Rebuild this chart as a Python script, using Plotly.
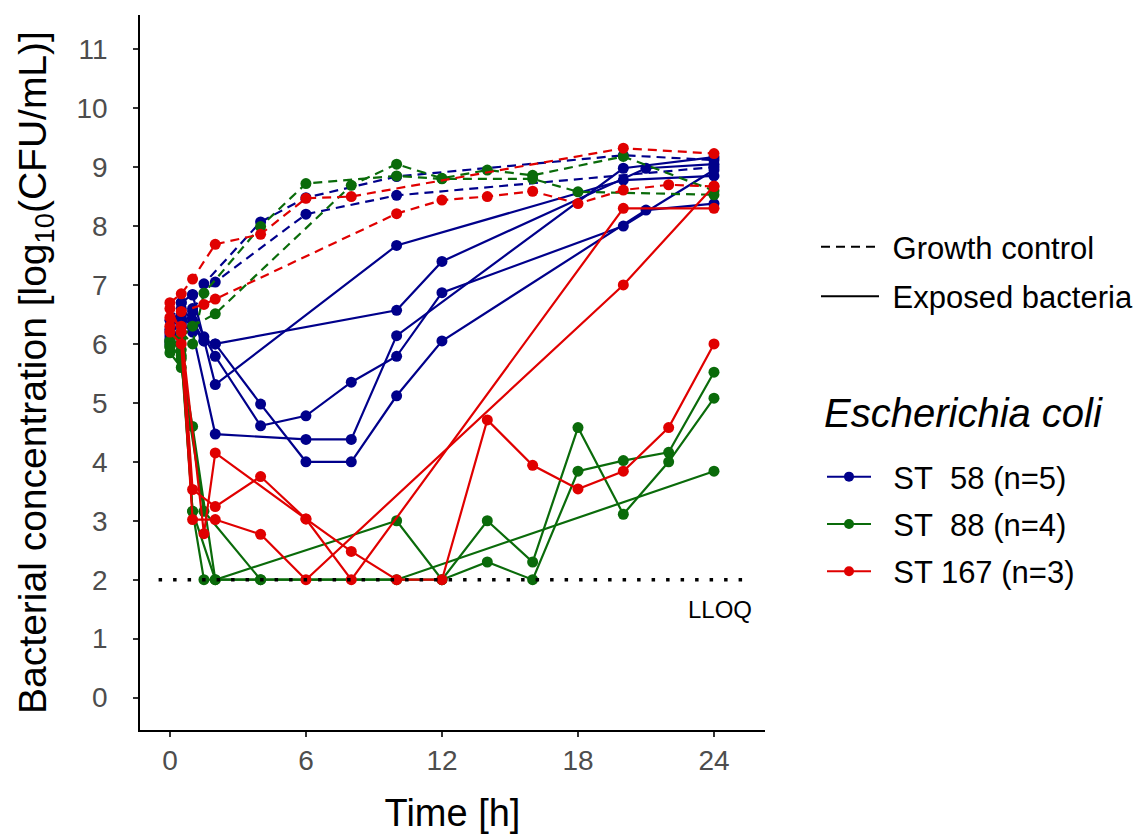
import plotly.graph_objects as go

FONT = "Liberation Sans"

# ---- data: log10 CFU/mL over time (h) ----
LLOQ = 2.0
LLOQ_SPAN = [-0.5, 25.5]

# ST 58 (n=5), exposed isolates
st58_exp_t = [
    [0, 0.5, 1, 1.5, 2, 10, 12, 21, 24],
    [0, 0.5, 1, 2, 10, 20, 24],
    [0, 0.5, 1, 1.5, 2, 4, 6, 8, 10, 12, 20, 24],
    [0, 0.5, 1, 2, 6, 8, 10, 20, 24],
    [0, 0.5, 1, 1.5, 2, 4, 6, 8, 10, 12, 21, 24],
]
st58_exp_v = [
    [6.10, 6.45, 6.30, 6.05, 6.00, 6.57, 7.40, 8.98, 9.05],
    [6.20, 6.70, 6.84, 5.31, 7.67, 8.78, 8.85],
    [6.05, 6.30, 6.55, 6.12, 5.79, 4.61, 4.78, 5.35, 5.79, 6.87, 8.00, 8.95],
    [6.00, 6.35, 6.20, 4.47, 4.38, 4.38, 6.14, 8.98, 9.17],
    [6.15, 6.60, 6.40, 6.05, 6.00, 4.98, 4.00, 4.00, 5.12, 6.05, 8.27, 8.38],
]
# ST 58 growth controls
st58_gc_t = [
    [0, 0.5, 1, 1.5, 4, 6, 10, 20, 24],
    [0, 0.5, 1, 2, 6, 10, 24],
]
st58_gc_v = [
    [6.40, 6.70, 6.83, 7.02, 8.07, 8.48, 8.84, 9.20, 9.12],
    [6.25, 6.50, 6.60, 7.05, 8.20, 8.52, 9.00],
]

# ST 88 (n=4), exposed isolates
st88_exp_t = [
    [0, 0.5, 1, 2, 10, 12, 14, 16, 18, 20, 22, 24],
    [0, 0.5, 1.5, 4, 10, 24],
    [0, 0.5, 1, 1.5, 12, 14, 16, 18, 20, 22, 24],
    [0, 0.5, 1, 2, 4],
]
st88_exp_v = [
    [6.00, 5.75, 4.60, 2.00, 3.00, 2.00, 3.00, 2.30, 4.58, 3.11, 4.00, 5.08],
    [5.85, 5.60, 3.16, 2.00, 2.00, 3.84],
    [6.05, 5.90, 3.16, 2.00, 2.00, 2.30, 2.00, 3.84, 4.02, 4.16, 5.52],
    [5.95, 5.80, 3.16, 2.00, 2.00],
]
# ST 88 growth controls
st88_gc_t = [
    [0, 0.5, 1, 1.5, 4, 6, 10, 12, 16, 18, 24],
    [0, 0.5, 1, 2, 8, 10, 12, 14, 16, 20, 24],
]
st88_gc_v = [
    [6.05, 6.20, 6.00, 6.86, 7.99, 8.72, 8.85, 8.80, 8.80, 8.58, 8.53],
    [5.95, 6.10, 6.30, 6.51, 8.69, 9.05, 8.81, 8.95, 8.86, 9.18, 8.60],
]

# ST 167 (n=3), exposed isolates
st167_exp_t = [
    [0, 0.5, 1, 2, 4, 6, 8, 10, 12, 14, 16, 18, 20, 22, 24],
    [0, 0.5, 1.5, 2, 6, 8, 20, 24],
    [0, 0.5, 1, 2, 4, 6, 20, 24],
]
st167_exp_v = [
    [6.45, 6.30, 3.53, 3.24, 3.75, 3.03, 2.48, 2.00, 2.00, 4.71, 3.94, 3.54, 3.84, 4.58, 6.00],
    [6.60, 6.20, 2.78, 4.15, 3.03, 2.00, 8.30, 8.30],
    [6.20, 6.00, 3.02, 3.02, 2.77, 2.00, 7.00, 8.68],
]
# ST 167 growth controls
st167_gc_t = [
    [0, 0.5, 1, 2, 4, 6, 8, 20, 24],
    [0, 0.5, 1.5, 2, 10, 12, 14, 16, 18, 20, 22, 24],
]
st167_gc_v = [
    [6.70, 6.85, 7.10, 7.69, 7.86, 8.47, 8.50, 9.32, 9.23],
    [6.30, 6.55, 6.67, 6.76, 8.21, 8.44, 8.50, 8.59, 8.38, 8.61, 8.70, 8.67],
]

strain_labels = ["ST\u00a0\u00a058 (n=5)", "ST\u00a0\u00a088 (n=4)", "ST 167 (n=3)"]
strain_colors = ["#00008B", "#0A6B0A", "#E00000"]
linetype_labels = ["Growth control", "Exposed bacteria"]
x_ticks = [0, 6, 12, 18, 24]
y_ticks = list(range(0, 12))

GC_DASH = "9px,6px"
PAD = "\u00a0"
MARKER_SIZE = 11

strains = [
    (st58_gc_t, st58_gc_v, st58_exp_t, st58_exp_v),
    (st88_gc_t, st88_gc_v, st88_exp_t, st88_exp_v),
    (st167_gc_t, st167_gc_v, st167_exp_t, st167_exp_v),
]

fig = go.Figure()

for (gc_t, gc_v, ex_t, ex_v), color in zip(strains, strain_colors):
    for t, v in zip(gc_t, gc_v):
        fig.add_trace(go.Scatter(
            x=t, y=v, mode="lines+markers", showlegend=False, hoverinfo="skip",
            line=dict(color=color, width=2.2, dash=GC_DASH),
            marker=dict(color=color, size=MARKER_SIZE, symbol="circle"),
        ))
    for t, v in zip(ex_t, ex_v):
        fig.add_trace(go.Scatter(
            x=t, y=v, mode="lines+markers", showlegend=False, hoverinfo="skip",
            line=dict(color=color, width=2.2),
            marker=dict(color=color, size=MARKER_SIZE, symbol="circle"),
        ))

# lower limit of quantification
fig.add_trace(go.Scatter(
    x=LLOQ_SPAN, y=[LLOQ, LLOQ], mode="lines", showlegend=False, hoverinfo="skip",
    line=dict(color="black", width=3.5, dash="3.5px,11px"),
))
fig.add_annotation(
    x=LLOQ_SPAN[1], y=LLOQ, xref="x", yref="y", text="LLOQ",
    showarrow=False, xanchor="right", yanchor="top", xshift=6, yshift=-14,
    font=dict(family=FONT, size=24, color="black"),
)

# line-type legend
for name, dash in zip(linetype_labels, [GC_DASH, "solid"]):
    fig.add_trace(go.Scatter(
        x=[None], y=[None], mode="lines", name=PAD + name, legend="legend",
        legendgroup=name, line=dict(color="black", width=2, dash=dash),
    ))

# strain legend
for name, color in zip(strain_labels, strain_colors):
    fig.add_trace(go.Scatter(
        x=[None], y=[None], mode="lines+markers", name=PAD * 2 + name, legend="legend2",
        legendgroup=name, line=dict(color=color, width=2),
        marker=dict(color=color, size=10),
    ))

fig.add_annotation(
    x=1.0912, y=0.443, xref="paper", yref="paper", text="<i>Escherichia coli</i>",
    showarrow=False, xanchor="left", yanchor="middle",
    font=dict(family=FONT, size=40, color="black"),
)

axis_common = dict(
    showline=True, linecolor="black", linewidth=1.5, mirror=False,
    ticks="outside", ticklen=5, tickwidth=1.5, tickcolor="#333333",
    showgrid=False, zeroline=False, automargin=False,
    tickfont=dict(family=FONT, size=28, color="#4D4D4D"),
)

fig.update_layout(
    width=1138, height=834,
    margin=dict(l=140, r=373, t=15, b=104, autoexpand=False),
    paper_bgcolor="white", plot_bgcolor="white",
    font=dict(family=FONT, color="black"),
    xaxis=dict(
        range=[-1.32, 26.25], tickvals=x_ticks,
        title=dict(text="Time [h]", font=dict(family=FONT, size=38, color="black"), standoff=24),
        **axis_common,
    ),
    yaxis=dict(
        range=[-0.55, 11.58], tickvals=y_ticks, ticklabelstandoff=20,
        title=dict(text="Bacterial concentration [log<sub>10</sub>(CFU/mL)]",
                   font=dict(family=FONT, size=39, color="black"), standoff=18),
        **axis_common,
    ),
    legend=dict(
        x=1.0816, y=0.713, xanchor="left", yanchor="top",
        font=dict(family=FONT, size=31, color="black"),
        itemwidth=58, tracegroupgap=6, bgcolor="rgba(0,0,0,0)",
    ),
    legend2=dict(
        x=1.0912, y=0.3916, xanchor="left", yanchor="top",
        font=dict(family=FONT, size=31, color="black"),
        itemwidth=44, tracegroupgap=4, bgcolor="rgba(0,0,0,0)",
    ),
)

fig.write_html("out.html")
